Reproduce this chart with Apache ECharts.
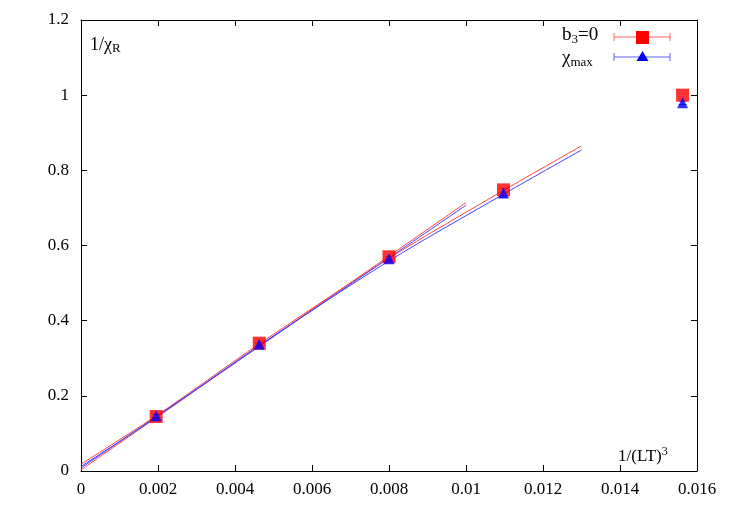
<!DOCTYPE html>
<html><head><meta charset="utf-8">
<script src="https://cdn.jsdelivr.net/npm/echarts@6/dist/echarts.min.js"></script>
<style>html,body{margin:0;padding:0;background:#fff}#c{width:731px;height:512px}</style>
</head><body><div id="c"></div>
<script>
const xVals = [0.001953, 0.00463, 0.008, 0.010974, 0.015625];
const redVals = [0.145, 0.340, 0.570, 0.748, 1.000];
const blueVals = [0.147, 0.337, 0.565, 0.740, 0.980];
const blueErr = [0.004, 0.004, 0.005, 0.012, 0.005];
const redFitShort = [[0, 0.003], [0.01, 0.714]];
const redFitLong = [[0, 0.018], [0.002, 0.150], [0.0046, 0.336], [0.008, 0.566], [0.011, 0.748], [0.013, 0.865]];
const blueFitShort = [[0, 0.008], [0.01, 0.707]];
const blueFitLong = [[0, 0.012], [0.002, 0.146], [0.0046, 0.332], [0.008, 0.559], [0.011, 0.738], [0.013, 0.854]];
const xTicks = [0, 0.002, 0.004, 0.006, 0.008, 0.01, 0.012, 0.014, 0.016];
const yTicks = [0, 0.2, 0.4, 0.6, 0.8, 1, 1.2];

const F = 'Liberation Serif';
const chart = echarts.init(document.getElementById('c'));
const axisCommon = () => ({
  axisLine: {show: true, onZero: false, lineStyle: {color: '#000', width: 1}},
  axisTick: {show: true, inside: true, length: 6, lineStyle: {color: '#000'}},
  splitLine: {show: false}
});
const errSeries = {
  type: 'custom', z: 3,
  renderItem: function (params, api) {
    const x = api.value(0), y = api.value(1), e = api.value(2);
    const p1 = api.coord([x, y - e]), p2 = api.coord([x, y + e]);
    const st = {stroke: '#4040ff', lineWidth: 1};
    return {type: 'group', children: [
      {type: 'line', shape: {x1: p1[0], y1: p1[1], x2: p2[0], y2: p2[1]}, style: st},
      {type: 'line', shape: {x1: p1[0]-4, y1: p1[1], x2: p1[0]+4, y2: p1[1]}, style: st},
      {type: 'line', shape: {x1: p2[0]-4, y1: p2[1], x2: p2[0]+4, y2: p2[1]}, style: st}
    ]};
  },
  data: xVals.map((x, i) => [x, blueVals[i], blueErr[i]])
};
const line = (d, c) => ({type: 'line', data: d, symbol: 'none', smooth: 0.3, lineStyle: {color: c, width: 1}, z: 2, silent: true});
chart.setOption({
  animation: false,
  textStyle: {fontFamily: F},
  grid: {left: 81, right: 34, top: 20, bottom: 41},
  xAxis: [
    Object.assign({type: 'value', min: 0, max: 0.016, interval: 0.002, position: 'bottom',
      axisLabel: {color: '#000', fontSize: 17, fontFamily: F, margin: 10,
        formatter: v => xTicks.includes(+v.toFixed(3)) ? String(+v.toFixed(3)) : ''}}, axisCommon()),
    Object.assign({type: 'value', min: 0, max: 0.016, interval: 0.002, position: 'top', axisLabel: {show: false}}, axisCommon())
  ],
  yAxis: [
    Object.assign({type: 'value', min: 0, max: 1.2, interval: 0.2, position: 'left',
      axisLabel: {color: '#000', fontSize: 17, fontFamily: F, margin: 12,
        formatter: v => String(+v.toFixed(1))}}, axisCommon()),
    Object.assign({type: 'value', min: 0, max: 1.2, interval: 0.2, position: 'right', axisLabel: {show: false}}, axisCommon())
  ],
  series: [
    line(redFitShort, '#ff4040'), line(redFitLong, '#ff4040'),
    line(blueFitShort, '#4040ff'), line(blueFitLong, '#4040ff'),
    {type: 'scatter', data: xVals.map((x, i) => [x, redVals[i]]), symbol: 'rect', symbolSize: 13,
      itemStyle: {color: '#ff0000'}, z: 4},
    errSeries,
    {type: 'scatter', data: xVals.map((x, i) => [x, blueVals[i]]), symbol: 'triangle', symbolSize: 11,
      itemStyle: {color: '#0000ff'}, z: 5}
  ],
  graphic: [
    {type: 'text', left: 90, top: 36, style: {rich: {a: {fontSize: 18, fontFamily: F}, s: {fontSize: 13, fontFamily: F, padding: [8, 0, 0, 0]}}, text: '{a|1/χ}{s|R}', fill: '#000'}},
    {type: 'text', left: 618, top: 446, style: {rich: {a: {fontSize: 17, fontFamily: F}, s: {fontSize: 12, fontFamily: F, padding: [0, 0, 10, 0]}}, text: '{a|1/(LT)}{s|3}', fill: '#000'}},
    {type: 'text', left: 562, top: 26, style: {rich: {a: {fontSize: 19, fontFamily: F}, s: {fontSize: 13, fontFamily: F, padding: [8, 0, 0, 0]}}, text: '{a|b}{s|3}{a|=0}', fill: '#000'}},
    {type: 'text', left: 562, top: 49, style: {rich: {a: {fontSize: 19, fontFamily: F}, s: {fontSize: 13, fontFamily: F, padding: [8, 0, 0, 0]}}, text: '{a|χ}{s|max}', fill: '#000'}},
    {type: 'line', shape: {x1: 614, y1: 37, x2: 670, y2: 37}, style: {stroke: '#ff6060', lineWidth: 1}},
    {type: 'line', shape: {x1: 614, y1: 33, x2: 614, y2: 41}, style: {stroke: '#ff6060', lineWidth: 1}},
    {type: 'line', shape: {x1: 670, y1: 33, x2: 670, y2: 41}, style: {stroke: '#ff6060', lineWidth: 1}},
    {type: 'rect', shape: {x: 636, y: 31, width: 13, height: 13}, style: {fill: '#ff0000'}},
    {type: 'line', shape: {x1: 614, y1: 57, x2: 670, y2: 57}, style: {stroke: '#6060ff', lineWidth: 1}},
    {type: 'line', shape: {x1: 614, y1: 53, x2: 614, y2: 61}, style: {stroke: '#6060ff', lineWidth: 1}},
    {type: 'line', shape: {x1: 670, y1: 53, x2: 670, y2: 61}, style: {stroke: '#6060ff', lineWidth: 1}},
    {type: 'polygon', shape: {points: [[642.5, 51], [636.5, 61], [648.5, 61]]}, style: {fill: '#0000ff'}}
  ]
});
</script></body></html>
